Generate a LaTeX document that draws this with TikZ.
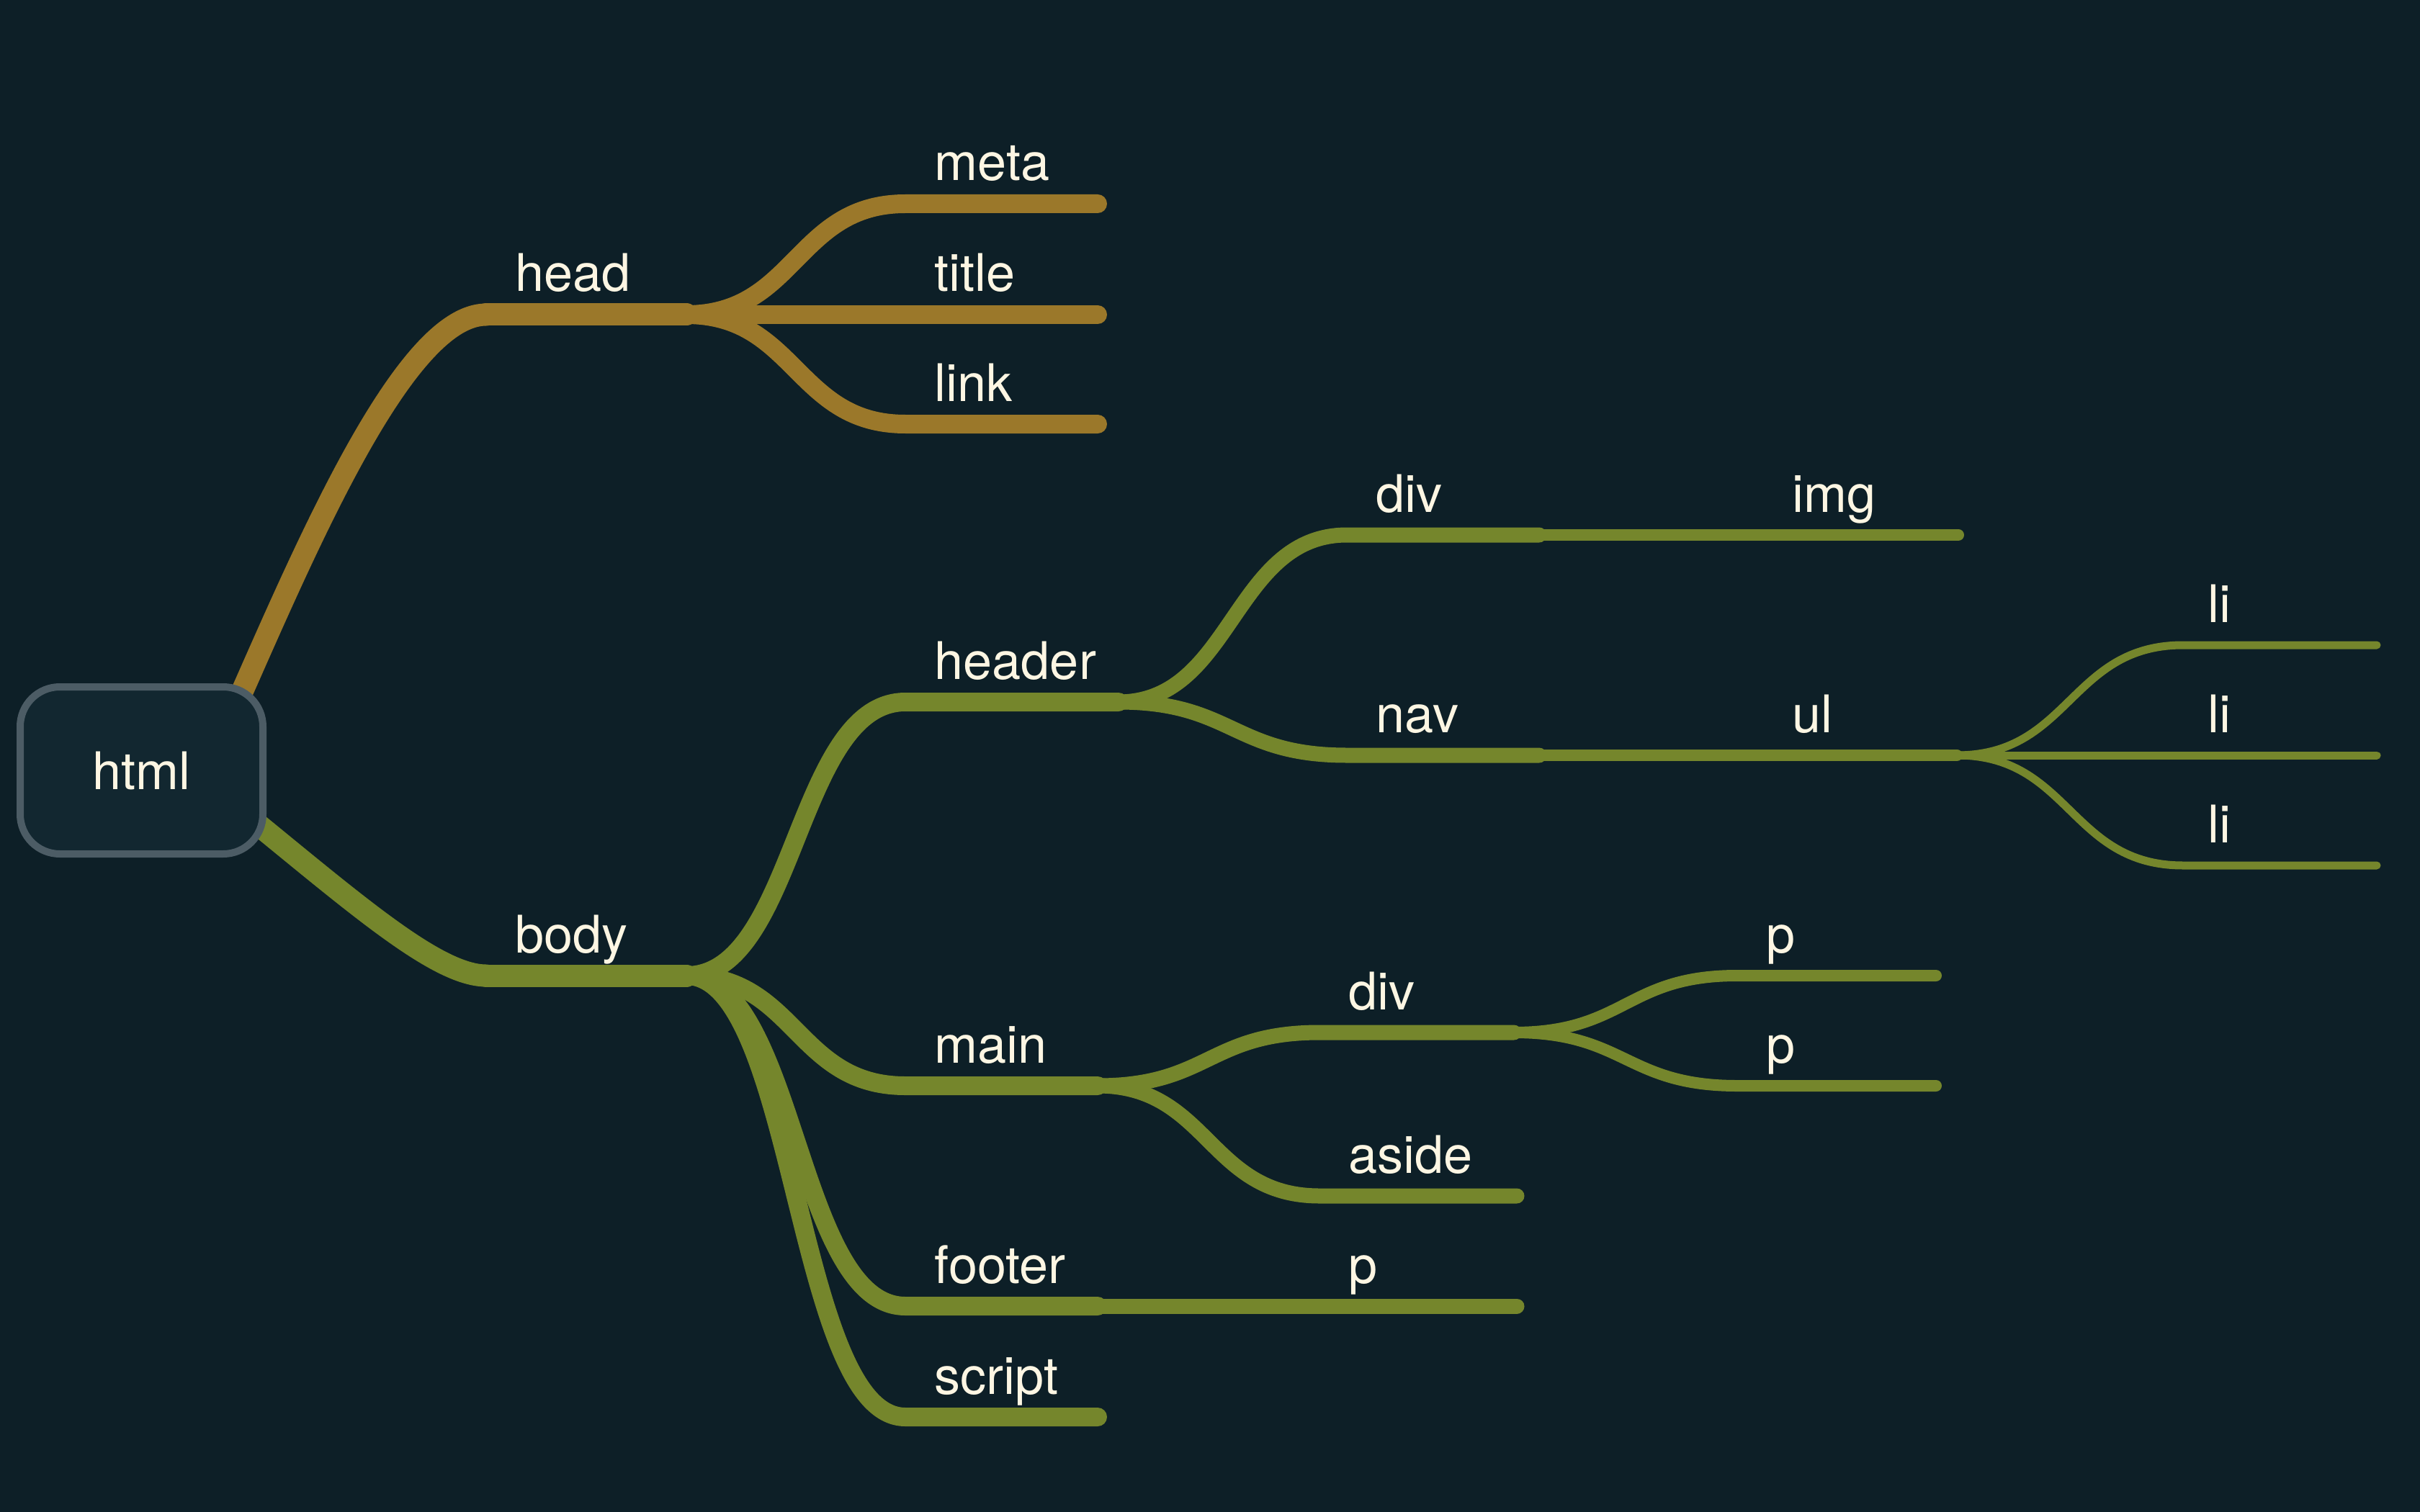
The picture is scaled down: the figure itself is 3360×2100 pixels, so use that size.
\documentclass[tikz,border=0pt]{standalone}
\usepackage{fontspec}
\setmainfont{TeX Gyre Heros}

\definecolor{bgcol}{RGB}{13,31,39}
\definecolor{boxfill}{RGB}{18,39,48}
\definecolor{boxline}{RGB}{76,92,101}
\definecolor{headcol}{RGB}{155,120,42}
\definecolor{bodycol}{RGB}{117,134,44}
\definecolor{labelcol}{RGB}{253,246,227}

\begin{document}
\begin{tikzpicture}[
    x=0.1mm, y=-0.1mm, % one unit is one pixel of the target
    line cap=round,
    lbl/.style={text=labelcol, anchor=base west, inner sep=0pt, font=\fontsize{20.5}{24}\selectfont}, % Style for labels
    rootbox/.style={draw=boxline, fill=boxfill, line width=1mm, rounded corners=5.5mm,
        minimum width=33.7mm, minimum height=23.2mm, text=labelcol, font=\fontsize{20.5}{24}\selectfont},
    lvlone/.style={line width=3.1mm},
    lvltwo/.style={line width=2.6mm},
    lvlthree/.style={line width=2.1mm},
    lvlfour/.style={line width=1.6mm},
    lvlfive/.style={line width=1.1mm}
]

    % Background
    \fill[bgcol] (0,0) rectangle (3360,2100);
    \useasboundingbox (0,0) rectangle (3360,2100);

    % Key points (start and end of every underline)
    \coordinate (root-h) at (287,1070); % hidden under the box
    \coordinate (root-b) at (290,1090); % hidden under the box
    \coordinate (head-s) at (675,437);    \coordinate (head-e) at (953,437);
    \coordinate (body-s) at (675,1355);   \coordinate (body-e) at (953,1355);
    \coordinate (meta-s) at (1257,283);   \coordinate (meta-e) at (1524,283);
    \coordinate (title-s) at (1257,437);  \coordinate (title-e) at (1524,437);
    \coordinate (link-s) at (1257,589);   \coordinate (link-e) at (1524,589);
    \coordinate (header-s) at (1257,975); \coordinate (header-e) at (1553,975);
    \coordinate (main-s) at (1257,1508);  \coordinate (main-e) at (1524,1508);
    \coordinate (footer-s) at (1257,1814);\coordinate (footer-e) at (1524,1814);
    \coordinate (script-s) at (1257,1968);\coordinate (script-e) at (1524,1968);
    \coordinate (hdiv-s) at (1870,743);   \coordinate (hdiv-e) at (2137,743);
    \coordinate (nav-s) at (1870,1049);   \coordinate (nav-e) at (2137,1049);
    \coordinate (mdiv-s) at (1832,1434);  \coordinate (mdiv-e) at (2102,1434);
    \coordinate (aside-s) at (1832,1661); \coordinate (aside-e) at (2106,1661);
    \coordinate (fp-s) at (1832,1814);    \coordinate (fp-e) at (2106,1814);
    \coordinate (img-s) at (2448,743);    \coordinate (img-e) at (2719,743);
    \coordinate (ul-s) at (2448,1049);    \coordinate (ul-e) at (2717,1049);
    \coordinate (pa-s) at (2412,1355);    \coordinate (pa-e) at (2688,1355);
    \coordinate (pb-s) at (2412,1508);    \coordinate (pb-e) at (2688,1508);
    \coordinate (lia-s) at (3031,896);    \coordinate (lia-e) at (3300,896);
    \coordinate (lib-s) at (3031,1049);   \coordinate (lib-e) at (3300,1049);
    \coordinate (lic-s) at (3031,1202);   \coordinate (lic-e) at (3300,1202);

    % Links out of the root (they start under the box)
    \draw[headcol, lvlone] (root-h) .. controls (385,860) and (545,437) .. (head-s);
    \draw[bodycol, lvlone] (root-b) .. controls (470,1234) and (600,1355) .. (body-s);

    % Root box
    \node[rootbox] (html) at (196.5,1070) {html};

    % --- head branch ---
    \draw[headcol, lvlone] (head-s) -- (head-e);
    \draw[headcol, lvltwo] (head-e) .. controls +(152,0) and +(-152,0) .. (meta-s) -- (meta-e);
    \draw[headcol, lvltwo] (head-e) -- (title-s) -- (title-e);
    \draw[headcol, lvltwo] (head-e) .. controls +(152,0) and +(-152,0) .. (link-s) -- (link-e);

    % --- body branch ---
    \draw[bodycol, lvlone] (body-s) -- (body-e);
    \draw[bodycol, lvltwo] (body-e) .. controls +(152,0) and +(-152,0) .. (header-s) -- (header-e);
    \draw[bodycol, lvltwo] (body-e) .. controls +(152,0) and +(-152,0) .. (main-s) -- (main-e);
    \draw[bodycol, lvltwo] (body-e) .. controls +(152,0) and +(-152,0) .. (footer-s) -- (footer-e);
    \draw[bodycol, lvltwo] (body-e) .. controls +(152,0) and +(-152,0) .. (script-s) -- (script-e);

    % header subtree
    \draw[bodycol, lvlthree] (header-e) .. controls +(158,0) and +(-158,0) .. (hdiv-s) -- (hdiv-e);
    \draw[bodycol, lvlthree] (header-e) .. controls +(158,0) and +(-158,0) .. (nav-s) -- (nav-e);
    \draw[bodycol, lvlfour] (hdiv-e) -- (img-s) -- (img-e);
    \draw[bodycol, lvlfour] (nav-e) -- (ul-s) -- (ul-e);
    \draw[bodycol, lvlfive] (ul-e) .. controls +(157,0) and +(-157,0) .. (lia-s) -- (lia-e);
    \draw[bodycol, lvlfive] (ul-e) -- (lib-s) -- (lib-e);
    \draw[bodycol, lvlfive] (ul-e) .. controls +(157,0) and +(-157,0) .. (lic-s) -- (lic-e);

    % main subtree
    \draw[bodycol, lvlthree] (main-e) .. controls +(154,0) and +(-154,0) .. (mdiv-s) -- (mdiv-e);
    \draw[bodycol, lvlthree] (main-e) .. controls +(154,0) and +(-154,0) .. (aside-s) -- (aside-e);
    \draw[bodycol, lvlfour] (mdiv-e) .. controls +(155,0) and +(-155,0) .. (pa-s) -- (pa-e);
    \draw[bodycol, lvlfour] (mdiv-e) .. controls +(155,0) and +(-155,0) .. (pb-s) -- (pb-e);

    % footer subtree
    \draw[bodycol, lvlthree] (footer-e) -- (fp-s) -- (fp-e);

    % --- Labels above the underlines ---
    \node[lbl] (head) at ([shift={(40,-32)}]head-s) {head};
    \node[lbl] (body) at ([shift={(40,-32)}]body-s) {body};
    \node[lbl] (meta) at ([shift={(40,-32)}]meta-s) {meta};
    \node[lbl] (title) at ([shift={(40,-32)}]title-s) {title};
    \node[lbl] (link) at ([shift={(40,-32)}]link-s) {link};
    \node[lbl] (header) at ([shift={(40,-32)}]header-s) {header};
    \node[lbl] (main) at ([shift={(40,-32)}]main-s) {main};
    \node[lbl] (footer) at ([shift={(40,-32)}]footer-s) {footer};
    \node[lbl] (script) at ([shift={(40,-32)}]script-s) {script};
    \node[lbl] (hdiv) at ([shift={(40,-32)}]hdiv-s) {div};
    \node[lbl] (nav) at ([shift={(40,-32)}]nav-s) {nav};
    \node[lbl] (mdiv) at ([shift={(40,-32)}]mdiv-s) {div};
    \node[lbl] (aside) at ([shift={(40,-32)}]aside-s) {aside};
    \node[lbl] (fp) at ([shift={(40,-32)}]fp-s) {p};
    \node[lbl] (img) at ([shift={(40,-32)}]img-s) {img};
    \node[lbl] (ul) at ([shift={(40,-32)}]ul-s) {ul};
    \node[lbl] (pa) at ([shift={(40,-32)}]pa-s) {p};
    \node[lbl] (pb) at ([shift={(40,-32)}]pb-s) {p};
    \node[lbl] (lia) at ([shift={(34,-32)}]lia-s) {li};
    \node[lbl] (lib) at ([shift={(34,-32)}]lib-s) {li};
    \node[lbl] (lic) at ([shift={(34,-32)}]lic-s) {li};

\end{tikzpicture}
\end{document}
